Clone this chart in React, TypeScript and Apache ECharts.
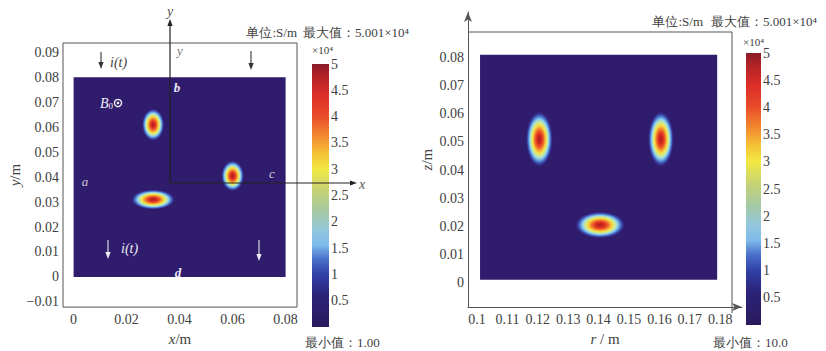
import React, { useEffect, useRef } from "react";
import * as echarts from "echarts";

// ---------- data ----------
const leftXTicks = [0, 0.02, 0.04, 0.06, 0.08];
const leftYTicks = [-0.01, 0, 0.01, 0.02, 0.03, 0.04, 0.05, 0.06, 0.07, 0.08, 0.09];
const rightXTicks = [0.1, 0.11, 0.12, 0.13, 0.14, 0.15, 0.16, 0.17, 0.18];
const rightYTicks = [0, 0.01, 0.02, 0.03, 0.04, 0.05, 0.06, 0.07, 0.08];
const colorbarTicks = [0.5, 1, 1.5, 2, 2.5, 3, 3.5, 4, 4.5, 5];

// conductivity domain rectangles [x0, y0, x1, y1] (m)
const leftDomain = [[0, 0, 0.08, 0.08]];
const rightDomain = [[0.101, 0.001, 0.179, 0.081]];
// conductive spots [cx, cy, halfWidth, halfHeight] (m)
const leftBlobs = [
  [0.03, 0.061, 0.0043, 0.0066],
  [0.06, 0.0405, 0.0044, 0.0063],
  [0.03, 0.031, 0.0084, 0.0041],
];
const rightBlobs = [
  [0.1205, 0.051, 0.0045, 0.01],
  [0.1605, 0.051, 0.0043, 0.01],
  [0.1405, 0.0205, 0.0083, 0.0048],
];
// colour range in units of 10^4 S/m  [min, max]
const leftRange = [0.0001, 5.001];
const rightRange = [0.001, 5.001];
const leftMinText = "1.00";
const rightMinText = "10.0";
const maxText = "5.001×10⁴";

// ---------- styles ----------
const FONT = "Liberation Serif";
const TXT = "#404040";
const BG = "#301c6d";

const cbStops = [
  { offset: 0, color: "#2a1a5c" },
  { offset: 0.12, color: "#2b2379" },
  { offset: 0.2, color: "#3040a6" },
  { offset: 0.26, color: "#4b72cc" },
  { offset: 0.31, color: "#7db9ea" },
  { offset: 0.37, color: "#95c7dc" },
  { offset: 0.44, color: "#a4c9a4" },
  { offset: 0.52, color: "#c6d374" },
  { offset: 0.6, color: "#f2e943" },
  { offset: 0.66, color: "#f5c236" },
  { offset: 0.72, color: "#f28e30" },
  { offset: 0.8, color: "#ea4d2a" },
  { offset: 0.88, color: "#dc2f28" },
  { offset: 0.95, color: "#b52326" },
  { offset: 1, color: "#8a1c28" },
];
const blobStops = [
  { offset: 0, color: "#a81d24" },
  { offset: 0.14, color: "#d3261f" },
  { offset: 0.28, color: "#ec5026" },
  { offset: 0.4, color: "#f5a232" },
  { offset: 0.5, color: "#f2e24a" },
  { offset: 0.6, color: "#cce89a" },
  { offset: 0.7, color: "#8fd0ee" },
  { offset: 0.8, color: "#4d7fd2" },
  { offset: 0.9, color: "rgba(58,58,160,0.8)" },
  { offset: 1, color: "rgba(48,28,109,0)" },
];

const fmt = (v: number) => String(+Number(v).toFixed(4)).replace("-", "−");

const domainSeries = (xi: number, data: number[][]) => ({
  type: "custom",
  xAxisIndex: xi,
  yAxisIndex: xi,
  data,
  z: 1,
  renderItem: (_p: any, api: any) => {
    const a = api.coord([api.value(0), api.value(1)]);
    const b = api.coord([api.value(2), api.value(3)]);
    return {
      type: "rect",
      shape: { x: a[0], y: b[1], width: b[0] - a[0], height: a[1] - b[1] },
      style: { fill: BG },
    };
  },
});

const blobSeries = (xi: number, data: number[][]) => ({
  type: "custom",
  xAxisIndex: xi,
  yAxisIndex: xi,
  data,
  z: 2,
  renderItem: (_p: any, api: any) => {
    const c = api.coord([api.value(0), api.value(1)]);
    const s = api.size([api.value(2), api.value(3)]);
    return {
      type: "ellipse",
      shape: { cx: c[0], cy: c[1], rx: s[0], ry: s[1] },
      style: { fill: new echarts.graphic.RadialGradient(0.5, 0.5, 0.5, blobStops) },
    };
  },
});

const barSeries = (xi: number, yi: number, range: number[]) => ({
  type: "custom",
  xAxisIndex: xi,
  yAxisIndex: yi,
  data: [[0, range[0], 1, range[1]]],
  z: 1,
  renderItem: (_p: any, api: any) => {
    const a = api.coord([api.value(0), api.value(1)]);
    const b = api.coord([api.value(2), api.value(3)]);
    return {
      type: "rect",
      shape: { x: a[0], y: b[1], width: b[0] - a[0], height: a[1] - b[1] },
      style: { fill: new echarts.graphic.LinearGradient(0, 1, 0, 0, cbStops) },
    };
  },
});

const labelStyle = (ticks: number[], margin: number) => ({
  customValues: ticks,
  formatter: fmt,
  margin,
  color: TXT,
  fontSize: 14,
  fontFamily: FONT,
});

const nameStyle = {
  color: TXT,
  fontSize: 15,
  fontFamily: FONT,
  rich: { i: { fontStyle: "italic", fontSize: 15, fontFamily: FONT, color: TXT } },
};

const mainX = (gi: number, min: number, max: number, ticks: number[], name: string, lineShow: boolean) => ({
  type: "value",
  gridIndex: gi,
  min,
  max,
  axisLine: {
    show: lineShow,
    onZero: false,
    symbol: ["none", "arrow"],
    symbolSize: [6, 10],
    lineStyle: { color: "#555", width: 1 },
  },
  axisTick: { show: false },
  splitLine: { show: false },
  axisLabel: labelStyle(ticks, 5),
  name,
  nameLocation: "middle",
  nameGap: 19,
  nameTextStyle: nameStyle,
});

const mainY = (gi: number, min: number, max: number, ticks: number[], name: string, lineShow: boolean, gap: number) => ({
  type: "value",
  gridIndex: gi,
  min,
  max,
  axisLine: {
    show: lineShow,
    onZero: false,
    symbol: ["none", "arrow"],
    symbolSize: [6, 10],
    lineStyle: { color: "#555", width: 1 },
  },
  axisTick: { show: false },
  splitLine: { show: false },
  axisLabel: labelStyle(ticks, 4),
  name,
  nameLocation: "middle",
  nameGap: gap,
  nameTextStyle: nameStyle,
});

const cbX = (gi: number) => ({ type: "value", gridIndex: gi, min: 0, max: 1, show: false });
const cbY = (gi: number, range: number[], pos: string, labels: boolean) => ({
  type: "value",
  gridIndex: gi,
  min: range[0],
  max: range[1],
  position: pos,
  axisLine: { show: false, onZero: false },
  splitLine: { show: false },
  axisTick: { show: true, inside: true, length: 3, customValues: colorbarTicks, lineStyle: { color: "#333", width: 1 } },
  axisLabel: labels
    ? { customValues: colorbarTicks, formatter: fmt, margin: 2, color: TXT, fontSize: 14, fontFamily: FONT }
    : { show: false },
});

// ---------- annotations (pixel positions) ----------
const arrow = (x1: number, y1: number, x2: number, y2: number, color: string, w = 1.1, head = 7) => {
  const ang = Math.atan2(y2 - y1, x2 - x1);
  const bx = x2 - head * Math.cos(ang);
  const by = y2 - head * Math.sin(ang);
  const px = -Math.sin(ang) * 2.6;
  const py = Math.cos(ang) * 2.6;
  return [
    { type: "line", z: 100, shape: { x1, y1, x2: bx, y2: by }, style: { stroke: color, lineWidth: w } },
    {
      type: "polygon",
      z: 100,
      shape: { points: [[x2, y2], [bx + px, by + py], [bx - px, by - py]] },
      style: { fill: color },
    },
  ];
};

const txt = (x: number, y: number, text: string, opts: any = {}) => ({
  type: "text",
  z: 101,
  x,
  y,
  style: {
    text,
    fill: opts.fill || TXT,
    fontSize: opts.size || 14,
    fontFamily: FONT,
    fontStyle: opts.italic ? "italic" : "normal",
    fontWeight: opts.bold ? "bold" : "normal",
    align: opts.align || "left",
    verticalAlign: "middle",
    rich: opts.rich,
  },
});

const W = "#ececf4";
const graphics: any[] = [
  // overlay coordinate axes in left panel
  ...arrow(170, 183, 170, 19, "#222", 1.2),
  ...arrow(170, 183, 357, 183, "#222", 1.2),
  txt(170, 11, "y", { italic: true, align: "center", fill: "#555" }),
  txt(362, 184, "x", { italic: true, align: "center", fill: "#555" }),
  txt(180, 50, "y", { italic: true, align: "center", fill: "#777", size: 13 }),
  // current arrows & labels
  ...arrow(101, 52, 101, 69, "#333"),
  txt(110, 62, "i(t)", { italic: true, fill: "#444" }),
  ...arrow(251, 51, 251, 70, "#333"),
  ...arrow(108, 240, 108, 259, W),
  txt(121, 248, "i(t)", { italic: true, fill: W }),
  ...arrow(259, 240, 259, 261, W),
  txt(177, 87, "b", { italic: true, bold: true, fill: W, size: 13, align: "center" }),
  txt(85, 181, "a", { italic: true, fill: "#c9c9da", size: 13, align: "center" }),
  txt(272, 173, "c", { italic: true, fill: "#c9c9da", size: 13, align: "center" }),
  txt(178, 272, "d", { italic: true, bold: true, fill: W, size: 13, align: "center" }),
  txt(100, 103, "{b|B}{s|0}", {
    fill: W,
    rich: {
      b: { fontStyle: "italic", fontSize: 14, fontFamily: FONT, fill: W, color: W },
      s: { fontSize: 9, fontFamily: FONT, color: W, padding: [6, 0, 0, 0] },
    },
  }),
  { type: "circle", z: 101, shape: { cx: 118, cy: 103, r: 3.6 }, style: { fill: "none", stroke: W, lineWidth: 1.4 } },
  { type: "circle", z: 101, shape: { cx: 118, cy: 103, r: 1.3 }, style: { fill: W } },
  // left headers
  txt(297, 32, "单位:S/m", { align: "right", size: 13 }),
  txt(303, 32, "最大值：" + maxText, { size: 13 }),
  txt(312, 50, "×10⁴", { size: 11 }),
  txt(305, 342, "最小值：" + leftMinText, { size: 13 }),
  // right frame
  {
    type: "polyline",
    z: 100,
    shape: { points: [[468, 32], [732, 32], [732, 313]] },
    style: { stroke: "#555", lineWidth: 1, fill: "none" },
  },
  // right headers
  txt(703, 21, "单位:S/m", { align: "right", size: 13 }),
  txt(711, 21, "最大值：" + maxText, { size: 13 }),
  txt(743, 42, "×10⁴", { size: 11 }),
  txt(713, 342, "最小值：" + rightMinText, { size: 13 }),
];

const option: any = {
  animation: false,
  backgroundColor: "#fff",
  textStyle: { fontFamily: FONT },
  grid: [
    { left: 63, top: 43, width: 234, height: 271, show: true, borderColor: "#555", borderWidth: 1, backgroundColor: "transparent" },
    { left: 468, top: 12, width: 274, height: 302 },
    { left: 312, top: 64, width: 17, height: 263 },
    { left: 746, top: 53, width: 15, height: 272 },
  ],
  xAxis: [
    mainX(0, -0.004, 0.0843, leftXTicks, "{i|x}/m", false),
    mainX(1, 0.09704, 0.18717, rightXTicks, "{i|r} / m", true),
    cbX(2),
    cbX(3),
  ],
  yAxis: [
    mainY(0, -0.0121, 0.09375, leftYTicks, "{i|y}/m", false, 36),
    mainY(1, -0.00868, 0.09618, rightYTicks, "{i|z}/m", true, 34),
    cbY(2, leftRange, "right", true),
    cbY(2, leftRange, "left", false),
    cbY(3, rightRange, "right", true),
    cbY(3, rightRange, "left", false),
  ],
  series: [
    domainSeries(0, leftDomain),
    blobSeries(0, leftBlobs),
    domainSeries(1, rightDomain),
    blobSeries(1, rightBlobs),
    barSeries(2, 2, leftRange),
    barSeries(3, 4, rightRange),
  ],
  graphic: { elements: graphics },
};

export default function App() {
  const ref = useRef<HTMLDivElement>(null);
  useEffect(() => {
    const chart = echarts.init(ref.current!, null, { renderer: "svg" });
    chart.setOption(option);
    return () => chart.dispose();
  }, []);
  return (
    <div
      ref={ref}
      style={{ position: "fixed", left: 0, top: 0, width: 826, height: 351, background: "#fff" }}
    />
  );
}
